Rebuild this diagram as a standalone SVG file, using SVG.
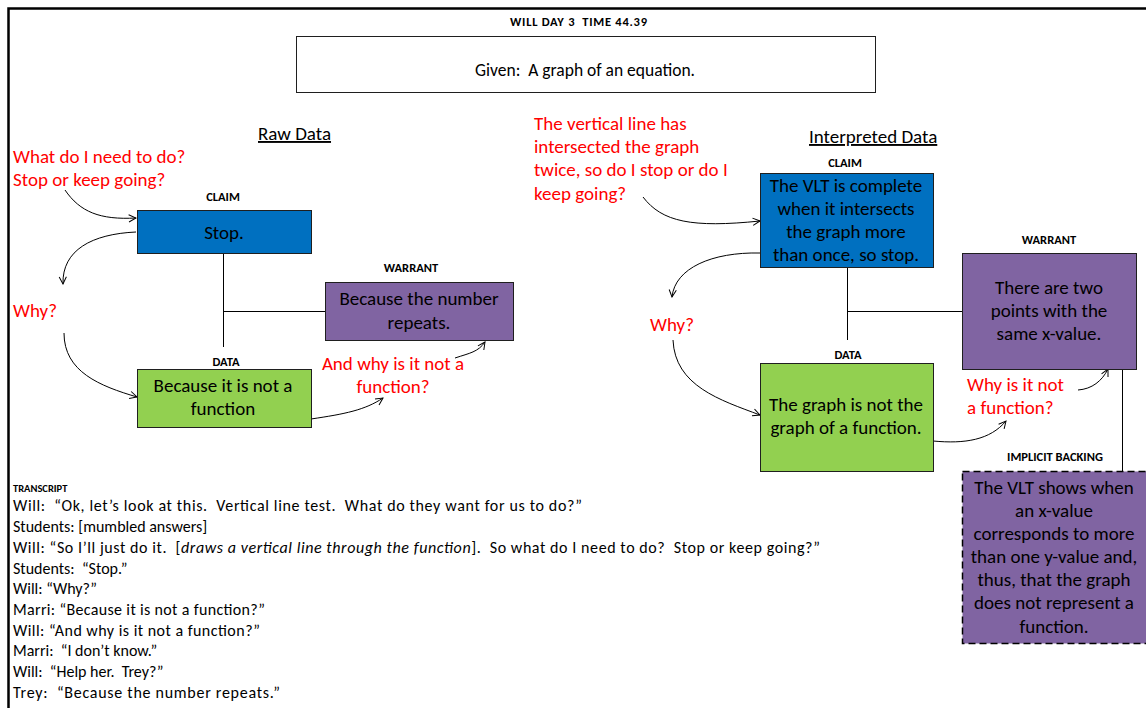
<svg xmlns="http://www.w3.org/2000/svg" width="1146" height="708" viewBox="0 0 1146 708">
  <defs>
    <style>
      text { font-family: Carlito, Lato, "Open Sans", sans-serif; fill: #000; white-space: pre; }
      .lbl { font-size: 12.5px; font-weight: bold; text-anchor: middle; }
      .box-text { font-size: 19px; text-anchor: middle; }
      .red { font-size: 19px; fill: #ff0000; }
      .head { font-size: 19px; text-decoration: underline; }
      .tr { font-size: 16px; }
      .wire { fill: none; stroke: #000; stroke-width: 1; }
      .curve { fill: none; stroke: #000; stroke-width: 1; marker-end: url(#open-arrow); }
      .claim { fill: #0070c0; stroke: #1f1f1f; stroke-width: 1; }
      .warrant { fill: #8064a2; stroke: #1f1f1f; stroke-width: 1; }
      .data { fill: #92d050; stroke: #1f1f1f; stroke-width: 1; }
    </style>
    <marker id="open-arrow" viewBox="0 0 10 10" refX="9" refY="5" markerWidth="9" markerHeight="9" orient="auto" markerUnits="userSpaceOnUse">
      <path d="M1,1 L9,5 L1,9" fill="none" stroke="#000" stroke-width="1.1"/>
    </marker>
  </defs>

  <rect width="1146" height="708" fill="#fff"/>

  <!-- page frame -->
  <path d="M8.5,708 V8.5 H1146" fill="none" stroke="#000" stroke-width="2.5"/>

  <!-- heading -->
  <text x="510" y="26" class="lbl" style="text-anchor:start" textLength="137" xml:space="preserve">WILL DAY 3  TIME 44.39</text>

  <g id="given">
    <rect x="296.5" y="36.5" width="579" height="56" fill="#fff" stroke="#1f1f1f"/>
    <text x="585" y="76" class="box-text" style="font-size:17.5px" xml:space="preserve">Given:  A graph of an equation.</text>
  </g>

  <!-- section headings -->
  <text x="258" y="140" class="head">Raw Data</text>
  <text x="809" y="143" class="head">Interpreted Data</text>

  <!-- connectors -->
  <g id="connectors">
    <path class="wire" d="M223.5,253 V347 M223.5,311.5 H325"/>
    <path class="wire" d="M847.5,267 V340 M847.5,311.5 H962"/>
    <path class="wire" d="M1122.5,369 V471"/>

    <path class="curve" d="M65,190 C80,212 100,220 136,218"/>
    <path class="curve" d="M136,232 C92,234 62,250 63,284"/>
    <path class="curve" d="M64,333 C64,372 100,386 137,397"/>
    <path class="curve" d="M311,419 C345,414 365,410 383,398"/>
    <path class="curve" d="M455,358 C470,353 478,352 485,342"/>

    <path class="curve" d="M643,197 C662,222 692,228 760,221"/>
    <path class="curve" d="M760,253 C712,252 675,268 672,297"/>
    <path class="curve" d="M673,340 C675,386 720,400 760,415"/>
    <path class="curve" d="M933,441 C965,444 990,440 1006,421"/>
    <path class="curve" d="M1078,390 C1092,389 1102,381 1108,369"/>
  </g>

  <!-- raw data side -->
  <text x="13" y="163" class="red">What do I need to do?</text>
  <text x="13" y="186" class="red">Stop or keep going?</text>
  <text x="13" y="317" class="red">Why?</text>
  <g>
    <text x="393" y="370" class="red" text-anchor="middle">And why is it not a</text>
    <text x="393" y="393" class="red" text-anchor="middle">function?</text>
  </g>

  <g id="raw-claim">
    <text x="223" y="201" class="lbl">CLAIM</text>
    <rect x="137.5" y="210.5" width="174" height="43" class="claim"/>
    <text x="224" y="239" class="box-text">Stop.</text>
  </g>

  <g id="raw-warrant">
    <text x="411" y="272" class="lbl">WARRANT</text>
    <rect x="325.5" y="282.5" width="188" height="58" class="warrant"/>
    <text x="419" y="305" class="box-text">Because the number</text>
    <text x="419" y="329" class="box-text">repeats.</text>
  </g>

  <g id="raw-data">
    <text x="226" y="366" class="lbl">DATA</text>
    <rect x="137.5" y="369.5" width="174" height="58" class="data"/>
    <text x="223" y="392" class="box-text">Because it is not a</text>
    <text x="223" y="415" class="box-text">function</text>
  </g>

  <!-- interpreted data side -->
  <text x="534" y="130" class="red">The vertical line has</text>
  <text x="534" y="153" class="red">intersected the graph</text>
  <text x="534" y="176" class="red">twice, so do I stop or do I</text>
  <text x="534" y="200" class="red">keep going?</text>
  <text x="650" y="331" class="red">Why?</text>
  <text x="967" y="391" class="red">Why is it not</text>
  <text x="967" y="414" class="red">a function?</text>

  <g id="vlt-claim">
    <text x="845" y="167" class="lbl">CLAIM</text>
    <rect x="760.5" y="173.5" width="173" height="94" class="claim"/>
    <text x="846" y="192" class="box-text">The VLT is complete</text>
    <text x="846" y="215" class="box-text">when it intersects</text>
    <text x="846" y="238" class="box-text">the graph more</text>
    <text x="846" y="261" class="box-text">than once, so stop.</text>
  </g>

  <g id="vlt-warrant">
    <text x="1049" y="244" class="lbl">WARRANT</text>
    <rect x="962.5" y="253.5" width="174" height="116" class="warrant"/>
    <text x="1049" y="294" class="box-text">There are two</text>
    <text x="1049" y="317" class="box-text">points with the</text>
    <text x="1049" y="340" class="box-text">same x-value.</text>
  </g>

  <g id="vlt-data">
    <text x="848" y="359" class="lbl">DATA</text>
    <rect x="760.5" y="363.5" width="173" height="108" class="data"/>
    <text x="846" y="411" class="box-text">The graph is not the</text>
    <text x="846" y="434" class="box-text">graph of a function.</text>
  </g>

  <g id="implicit-backing">
    <text x="1055" y="461" class="lbl">IMPLICIT BACKING</text>
    <rect x="962.5" y="471.5" width="190" height="172" fill="#8064a2" stroke="#000" stroke-width="1.5" stroke-dasharray="7,4"/>
    <text x="1054" y="494" class="box-text">The VLT shows when</text>
    <text x="1054" y="517" class="box-text">an x-value</text>
    <text x="1054" y="540" class="box-text">corresponds to more</text>
    <text x="1054" y="563" class="box-text">than one y-value and,</text>
    <text x="1054" y="586" class="box-text">thus, that the graph</text>
    <text x="1054" y="609" class="box-text">does not represent a</text>
    <text x="1054" y="633" class="box-text">function.</text>
  </g>

  <!-- transcript -->
  <g id="transcript">
    <text x="13" y="492" class="lbl" style="text-anchor:start;font-size:10.5px">TRANSCRIPT</text>
    <text x="13" y="511" class="tr" textLength="569" xml:space="preserve">Will:  “Ok, let’s look at this.  Vertical line test.  What do they want for us to do?”</text>
    <text x="13" y="532" class="tr">Students: [mumbled answers]</text>
    <text x="13" y="553" class="tr" textLength="807" xml:space="preserve">Will: “So I’ll just do it.  [<tspan font-style="italic">draws a vertical line through the function</tspan>].  So what do I need to do?  Stop or keep going?”</text>
    <text x="13" y="574" class="tr" xml:space="preserve">Students:  “Stop.”</text>
    <text x="13" y="594" class="tr">Will: “Why?”</text>
    <text x="13" y="615" class="tr" textLength="252">Marri: “Because it is not a function?”</text>
    <text x="13" y="636" class="tr" textLength="247">Will: “And why is it not a function?”</text>
    <text x="13" y="656" class="tr" xml:space="preserve">Marri:  “I don’t know.”</text>
    <text x="13" y="677" class="tr" xml:space="preserve">Will:  “Help her.  Trey?”</text>
    <text x="13" y="698" class="tr" textLength="267" xml:space="preserve">Trey:  “Because the number repeats.”</text>
  </g>
</svg>
